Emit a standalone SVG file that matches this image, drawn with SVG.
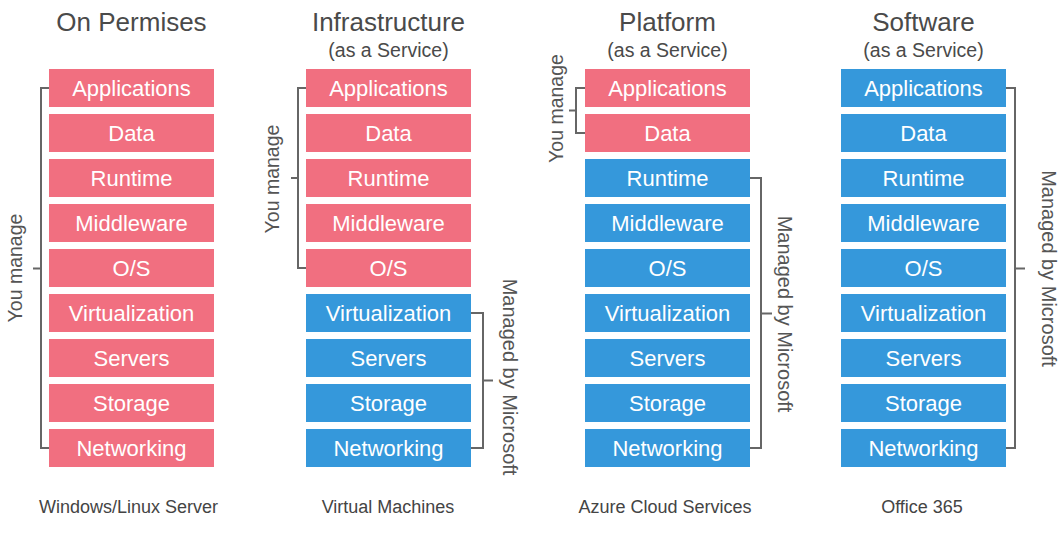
<svg xmlns="http://www.w3.org/2000/svg" width="1064" height="535" viewBox="0 0 1064 535">
<style>
.bg{fill:#ffffff}
.pink{fill:#f16f80}
.blue{fill:#3598db}
.bt{font-family:"Liberation Sans",Arial,sans-serif;font-size:22px;fill:#ffffff;text-anchor:middle}
.title{font-family:"Liberation Sans",Arial,sans-serif;font-size:26px;fill:#4a4a4a;text-anchor:middle}
.sub{font-family:"Liberation Sans",Arial,sans-serif;font-size:19.5px;fill:#4a4a4a;text-anchor:middle}
.foot{font-family:"Liberation Sans",Arial,sans-serif;font-size:18px;fill:#444444;text-anchor:middle}
.side{font-family:"Liberation Sans",Arial,sans-serif;font-size:20px;fill:#555555;text-anchor:middle}
.you{font-family:"Liberation Sans",Arial,sans-serif;font-size:19.5px;fill:#555555;text-anchor:middle}
.br{fill:none;stroke:#666666;stroke-width:2}
</style>
<rect class="bg" x="0" y="0" width="1064" height="535"/>

<g id="col-onprem">
<text class="title" x="131.5" y="31">On Permises</text>
<g id="onprem-applications"><rect class="pink" x="49" y="69" width="165" height="38"/><text class="bt" x="131.5" y="95.5">Applications</text></g>
<g id="onprem-data"><rect class="pink" x="49" y="114" width="165" height="38"/><text class="bt" x="131.5" y="140.5">Data</text></g>
<g id="onprem-runtime"><rect class="pink" x="49" y="159" width="165" height="38"/><text class="bt" x="131.5" y="185.5">Runtime</text></g>
<g id="onprem-middleware"><rect class="pink" x="49" y="204" width="165" height="38"/><text class="bt" x="131.5" y="230.5">Middleware</text></g>
<g id="onprem-os"><rect class="pink" x="49" y="249" width="165" height="38"/><text class="bt" x="131.5" y="275.5">O/S</text></g>
<g id="onprem-virtualization"><rect class="pink" x="49" y="294" width="165" height="38"/><text class="bt" x="131.5" y="320.5">Virtualization</text></g>
<g id="onprem-servers"><rect class="pink" x="49" y="339" width="165" height="38"/><text class="bt" x="131.5" y="365.5">Servers</text></g>
<g id="onprem-storage"><rect class="pink" x="49" y="384" width="165" height="38"/><text class="bt" x="131.5" y="410.5">Storage</text></g>
<g id="onprem-networking"><rect class="pink" x="49" y="429" width="165" height="38"/><text class="bt" x="131.5" y="455.5">Networking</text></g>
<text class="foot" x="128.5" y="513">Windows/Linux Server</text>
</g>

<g id="col-iaas">
<text class="title" x="388.5" y="31">Infrastructure</text>
<text class="sub" x="388.5" y="56.5">(as a Service)</text>
<g id="iaas-applications"><rect class="pink" x="306" y="69" width="165" height="38"/><text class="bt" x="388.5" y="95.5">Applications</text></g>
<g id="iaas-data"><rect class="pink" x="306" y="114" width="165" height="38"/><text class="bt" x="388.5" y="140.5">Data</text></g>
<g id="iaas-runtime"><rect class="pink" x="306" y="159" width="165" height="38"/><text class="bt" x="388.5" y="185.5">Runtime</text></g>
<g id="iaas-middleware"><rect class="pink" x="306" y="204" width="165" height="38"/><text class="bt" x="388.5" y="230.5">Middleware</text></g>
<g id="iaas-os"><rect class="pink" x="306" y="249" width="165" height="38"/><text class="bt" x="388.5" y="275.5">O/S</text></g>
<g id="iaas-virtualization"><rect class="blue" x="306" y="294" width="165" height="38"/><text class="bt" x="388.5" y="320.5">Virtualization</text></g>
<g id="iaas-servers"><rect class="blue" x="306" y="339" width="165" height="38"/><text class="bt" x="388.5" y="365.5">Servers</text></g>
<g id="iaas-storage"><rect class="blue" x="306" y="384" width="165" height="38"/><text class="bt" x="388.5" y="410.5">Storage</text></g>
<g id="iaas-networking"><rect class="blue" x="306" y="429" width="165" height="38"/><text class="bt" x="388.5" y="455.5">Networking</text></g>
<text class="foot" x="388" y="513">Virtual Machines</text>
</g>

<g id="col-paas">
<text class="title" x="667.5" y="31">Platform</text>
<text class="sub" x="667.5" y="56.5">(as a Service)</text>
<g id="paas-applications"><rect class="pink" x="585" y="69" width="165" height="38"/><text class="bt" x="667.5" y="95.5">Applications</text></g>
<g id="paas-data"><rect class="pink" x="585" y="114" width="165" height="38"/><text class="bt" x="667.5" y="140.5">Data</text></g>
<g id="paas-runtime"><rect class="blue" x="585" y="159" width="165" height="38"/><text class="bt" x="667.5" y="185.5">Runtime</text></g>
<g id="paas-middleware"><rect class="blue" x="585" y="204" width="165" height="38"/><text class="bt" x="667.5" y="230.5">Middleware</text></g>
<g id="paas-os"><rect class="blue" x="585" y="249" width="165" height="38"/><text class="bt" x="667.5" y="275.5">O/S</text></g>
<g id="paas-virtualization"><rect class="blue" x="585" y="294" width="165" height="38"/><text class="bt" x="667.5" y="320.5">Virtualization</text></g>
<g id="paas-servers"><rect class="blue" x="585" y="339" width="165" height="38"/><text class="bt" x="667.5" y="365.5">Servers</text></g>
<g id="paas-storage"><rect class="blue" x="585" y="384" width="165" height="38"/><text class="bt" x="667.5" y="410.5">Storage</text></g>
<g id="paas-networking"><rect class="blue" x="585" y="429" width="165" height="38"/><text class="bt" x="667.5" y="455.5">Networking</text></g>
<text class="foot" x="665" y="513">Azure Cloud Services</text>
</g>

<g id="col-saas">
<text class="title" x="923.5" y="31">Software</text>
<text class="sub" x="923.5" y="56.5">(as a Service)</text>
<g id="saas-applications"><rect class="blue" x="841" y="69" width="165" height="38"/><text class="bt" x="923.5" y="95.5">Applications</text></g>
<g id="saas-data"><rect class="blue" x="841" y="114" width="165" height="38"/><text class="bt" x="923.5" y="140.5">Data</text></g>
<g id="saas-runtime"><rect class="blue" x="841" y="159" width="165" height="38"/><text class="bt" x="923.5" y="185.5">Runtime</text></g>
<g id="saas-middleware"><rect class="blue" x="841" y="204" width="165" height="38"/><text class="bt" x="923.5" y="230.5">Middleware</text></g>
<g id="saas-os"><rect class="blue" x="841" y="249" width="165" height="38"/><text class="bt" x="923.5" y="275.5">O/S</text></g>
<g id="saas-virtualization"><rect class="blue" x="841" y="294" width="165" height="38"/><text class="bt" x="923.5" y="320.5">Virtualization</text></g>
<g id="saas-servers"><rect class="blue" x="841" y="339" width="165" height="38"/><text class="bt" x="923.5" y="365.5">Servers</text></g>
<g id="saas-storage"><rect class="blue" x="841" y="384" width="165" height="38"/><text class="bt" x="923.5" y="410.5">Storage</text></g>
<g id="saas-networking"><rect class="blue" x="841" y="429" width="165" height="38"/><text class="bt" x="923.5" y="455.5">Networking</text></g>
<text class="foot" x="922" y="513">Office 365</text>
</g>

<g id="connectors">
<path class="br" d="M49,88 H41 V448 H49 M41,268.5 H33"/>
<path class="br" d="M306,88 H298 V268 H306 M298,178 H291"/>
<path class="br" d="M471,313 H483 V448 H471 M483,380.5 H493"/>
<path class="br" d="M585,88 H576 V133 H585 M576,110.5 H569"/>
<path class="br" d="M750,178 H761 V448 H750 M761,313.5 H772"/>
<path class="br" d="M1006,88 H1015 V448 H1006 M1015,268.5 H1025"/>
</g>

<g id="labels">
<text class="you" transform="translate(21.5,268) rotate(-90)">You manage</text>
<text class="you" transform="translate(279,179) rotate(-90)">You manage</text>
<text class="you" transform="translate(562.5,108.5) rotate(-90)">You manage</text>
<text class="side" transform="translate(502.5,377) rotate(90)">Managed by Microsoft</text>
<text class="side" transform="translate(777.5,314) rotate(90)">Managed by Microsoft</text>
<text class="side" transform="translate(1041.5,268.5) rotate(90)">Managed by Microsoft</text>
</g>
</svg>
